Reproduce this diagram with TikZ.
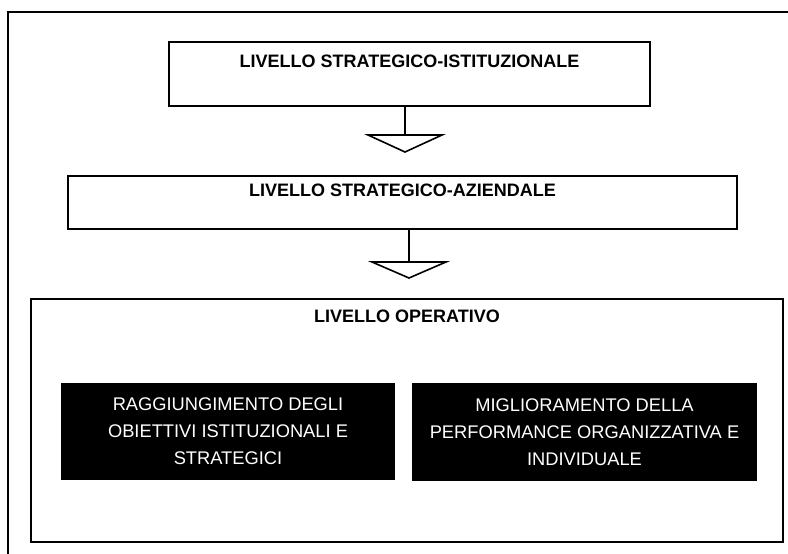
\documentclass[tikz,border=0pt]{standalone}
\usepackage{fontspec}
\setmainfont{Liberation Sans}
\usepackage{xcolor}
\usetikzlibrary{positioning}

\tikzset{
  levelbox/.style={draw=black, line width=1.6pt, fill=white, inner sep=0pt},
  leveltext/.style={font=\bfseries\fontsize{18}{20}\selectfont, inner sep=0pt},
  goalbox/.style={fill=black, text=white, align=center, inner sep=0pt,
    font=\fontsize{18.3}{27}\selectfont},
  flowline/.style={line width=1.6pt},
  flowhead/.style={line width=1.6pt, fill=white, line join=miter},
}

\begin{document}
\begin{tikzpicture}[x=1pt, y=-1pt]
  \useasboundingbox (0,0) rectangle (788,554);
  % scanned page frame
  \draw[line width=1.2pt] (788,12) -- (8,12) -- (8,554);

  % levels
  \node[levelbox, minimum width=481pt, minimum height=64pt] (istit) at (409.5,74) {};
  \node[leveltext] (istitlabel) at ([yshift=-20pt]istit.north) {LIVELLO STRATEGICO-ISTITUZIONALE};

  \node[levelbox, minimum width=669pt, minimum height=53pt] (azienda) at (402.5,202.5) {};
  \node[leveltext] (aziendalabel) at ([yshift=-15pt]azienda.north) {LIVELLO STRATEGICO-AZIENDALE};

  \node[levelbox, minimum width=752pt, minimum height=243pt] (operativo) at (407,420.5) {};
  \node[leveltext] (operativolabel) at ([yshift=-18pt]operativo.north) {LIVELLO OPERATIVO};

  % goals
  \node[goalbox, minimum width=334pt, minimum height=97pt] (obiettivi) at (228,431.5)
       {RAGGIUNGIMENTO DEGLI\\OBIETTIVI ISTITUZIONALI E\\STRATEGICI};
  \node[goalbox, minimum width=345pt, minimum height=98pt] (performance) at (584.5,432)
       {MIGLIORAMENTO DELLA\\PERFORMANCE ORGANIZZATIVA E\\INDIVIDUALE};

  % arrows between levels
  \coordinate (headA) at (405,135);
  \coordinate (headB) at (409,262);
  \draw[flowline] (istit.south -| headA) -- (headA);
  \draw[flowhead] (headA) -- ++(-37,0) -- ++(37,17) -- ++(37,-17) -- cycle;
  \draw[flowline] (azienda.south -| headB) -- (headB);
  \draw[flowhead] (headB) -- ++(-37,0) -- ++(37,16) -- ++(37,-16) -- cycle;
\end{tikzpicture}
\end{document}
